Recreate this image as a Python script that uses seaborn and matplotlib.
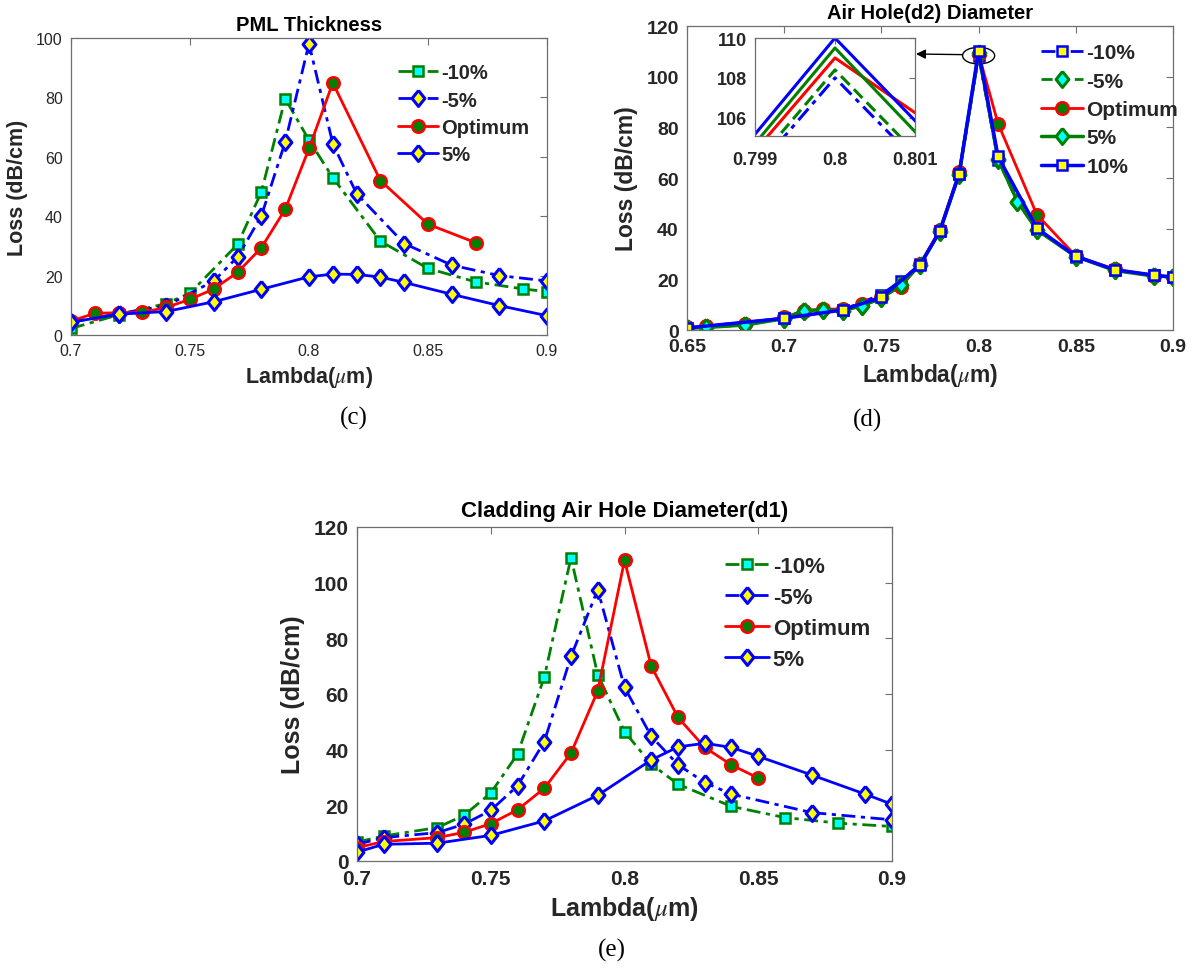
import matplotlib
matplotlib.use("Agg")
import matplotlib.pyplot as plt
from matplotlib.patches import Ellipse
import seaborn as sns
import pandas as pd

# ---------------- data ----------------
# Panel (c): PML Thickness
c_x_m10 = [0.70, 0.72, 0.74, 0.75, 0.77, 0.78, 0.79, 0.80, 0.81, 0.83, 0.85, 0.87, 0.89, 0.90]
c_y_m10 = [2.2, 6.8, 10.6, 14.1, 30.5, 48.2, 79.6, 65.6, 53.0, 31.6, 22.4, 17.9, 15.5, 14.6]
c_x_m5 = [0.70, 0.72, 0.74, 0.76, 0.77, 0.78, 0.79, 0.80, 0.81, 0.82, 0.84, 0.86, 0.88, 0.90]
c_y_m5 = [4.3, 7.2, 9.8, 18.2, 26.3, 40.1, 65.0, 98.1, 64.4, 47.6, 30.8, 23.5, 20.0, 18.2]
c_x_opt = [0.70, 0.71, 0.72, 0.73, 0.74, 0.75, 0.76, 0.77, 0.78, 0.79, 0.80, 0.81, 0.83, 0.85, 0.87]
c_y_opt = [4.7, 7.3, 7.5, 7.6, 9.3, 12.0, 15.5, 21.1, 29.4, 42.3, 62.8, 84.9, 52.0, 37.3, 31.1]
c_x_p5 = [0.70, 0.72, 0.74, 0.76, 0.78, 0.80, 0.81, 0.82, 0.83, 0.84, 0.86, 0.88, 0.90]
c_y_p5 = [4.3, 7.0, 7.9, 11.2, 15.4, 19.6, 20.5, 20.4, 19.5, 17.7, 13.7, 9.9, 6.5]

# Panel (d): Air Hole(d2) Diameter
d_x_m10 = [0.65, 0.70, 0.73, 0.75, 0.76, 0.77, 0.78, 0.79, 0.80, 0.81, 0.83, 0.85, 0.87, 0.89, 0.90]
d_y_m10 = [0.8, 4.6, 8.0, 14.0, 19.5, 26.0, 39.0, 61.5, 108.0, 67.0, 40.0, 29.0, 23.8, 21.6, 20.9]
d_x_m5 = [0.65, 0.66, 0.68, 0.70, 0.71, 0.72, 0.73, 0.74, 0.75, 0.76, 0.77, 0.78, 0.79, 0.80,
          0.81, 0.82, 0.83, 0.85, 0.87, 0.89, 0.90]
d_y_m5 = [0.8, 1.0, 2.0, 4.5, 7.5, 8.0, 7.6, 9.6, 12.5, 17.8, 25.8, 38.8, 61.3, 108.4,
          67.2, 50.5, 39.5, 29.0, 23.6, 21.4, 21.0]
d_x_opt = [0.65, 0.66, 0.68, 0.70, 0.71, 0.72, 0.73, 0.74, 0.75, 0.76, 0.77, 0.78, 0.79, 0.80,
           0.81, 0.83, 0.85, 0.87, 0.89, 0.90]
d_y_opt = [1.0, 1.4, 2.5, 5.0, 7.6, 8.2, 8.3, 10.3, 13.0, 17.0, 26.2, 39.5, 62.3, 109.0,
           81.5, 45.5, 29.2, 24.0, 21.5, 21.0]
d_x_p5 = [0.65, 0.66, 0.68, 0.70, 0.71, 0.72, 0.73, 0.74, 0.75, 0.76, 0.77, 0.78, 0.79, 0.80,
          0.81, 0.82, 0.83, 0.85, 0.87, 0.89, 0.90]
d_y_p5 = [0.8, 1.0, 2.0, 4.5, 7.6, 8.0, 7.6, 9.6, 12.5, 17.8, 25.8, 38.9, 61.5, 109.5,
          67.5, 50.7, 39.5, 29.0, 23.5, 21.3, 21.0]
d_x_p10 = [0.65, 0.70, 0.73, 0.75, 0.77, 0.78, 0.79, 0.80, 0.81, 0.83, 0.85, 0.87, 0.89, 0.90]
d_y_p10 = [0.8, 4.6, 7.9, 12.9, 25.8, 38.9, 61.7, 110.0, 68.5, 40.2, 29.1, 23.8, 21.7, 20.8]

# Panel (e): Cladding Air Hole Diameter(d1)
e_x_m10 = [0.70, 0.71, 0.73, 0.74, 0.75, 0.76, 0.77, 0.78, 0.79, 0.80, 0.81, 0.82, 0.84, 0.86, 0.88, 0.90]
e_y_m10 = [6.8, 9.0, 12.0, 16.4, 24.4, 38.4, 66.0, 109.0, 66.9, 46.5, 34.8, 27.6, 19.6, 15.6, 13.6, 12.4]
e_x_m5 = [0.70, 0.71, 0.73, 0.74, 0.75, 0.76, 0.77, 0.78, 0.79, 0.80, 0.81, 0.82, 0.83, 0.84, 0.87, 0.90]
e_y_m5 = [6.0, 8.4, 10.2, 13.2, 18.2, 27.0, 42.8, 73.5, 97.5, 62.4, 44.8, 34.6, 28.2, 24.0, 17.4, 14.8]
e_x_opt = [0.70, 0.71, 0.73, 0.74, 0.75, 0.76, 0.77, 0.78, 0.79, 0.80, 0.81, 0.82, 0.83, 0.84, 0.85]
e_y_opt = [4.8, 7.0, 8.4, 10.3, 13.4, 18.4, 26.1, 38.8, 61.1, 108.0, 70.0, 51.6, 40.8, 34.5, 29.8]
e_x_p5 = [0.70, 0.71, 0.73, 0.75, 0.77, 0.79, 0.81, 0.82, 0.83, 0.84, 0.85, 0.87, 0.89, 0.90]
e_y_p5 = [3.2, 6.0, 6.4, 9.2, 14.4, 23.6, 36.3, 41.0, 42.3, 40.8, 37.6, 30.9, 24.0, 20.4]

series_labels_ce = ["-10%", "-5%", "Optimum", "5%"]
series_labels_d = ["-10%", "-5%", "Optimum", "5%", "10%"]

xticks_ce = [0.7, 0.75, 0.8, 0.85, 0.9]
xtick_labels_ce = ["0.7", "0.75", "0.8", "0.85", "0.9"]
xticks_d = [0.65, 0.7, 0.75, 0.8, 0.85, 0.9]
xtick_labels_d = ["0.65", "0.7", "0.75", "0.8", "0.85", "0.9"]
yticks_c = [0, 20, 40, 60, 80, 100]
yticks_de = [0, 20, 40, 60, 80, 100, 120]
inset_xticks = [0.799, 0.8, 0.801]
inset_xtick_labels = ["0.799", "0.8", "0.801"]
inset_yticks = [106, 108, 110]

# ---------------- style ----------------
sns.set_theme(style="white")
plt.rcParams["font.family"] = ["Liberation Sans", "DejaVu Sans"]
plt.rcParams["mathtext.fontset"] = "stix"

GREEN = "#008000"
BLUE = "#0000FF"
RED = "#FF0000"
CYAN = "#00FFFF"
YELLOW = "#FFFF00"
SPINE = "#6e6e6e"
TXT = "#262626"
DASHDOT = (0, (5, 2, 1.5, 2))
DASHED = (0, (4, 2))
DIAMOND = [(0, 1), (0.8, 0), (0, -1), (-0.8, 0), (0, 1)]

fig = plt.figure(figsize=(11.93, 9.70), dpi=100)
W, H = 1193.0, 970.0


def rect(l, t, r, b):
    return [l / W, 1 - b / H, (r - l) / W, (b - t) / H]


ax_c = fig.add_axes(rect(71, 39, 547, 336))
ax_d = fig.add_axes(rect(687, 27, 1173, 331))
ax_e = fig.add_axes(rect(357, 528, 892, 862))


def draw(ax, xs, ys, color, ls, marker, ms, mfc, label, lw=2.0, mew=1.8):
    df = pd.DataFrame({"x": xs, "y": ys})
    sns.lineplot(data=df, x="x", y="y", ax=ax, color=color, linestyle=ls, linewidth=lw,
                 marker=marker, markersize=ms, markerfacecolor=mfc, markeredgecolor=color,
                 markeredgewidth=mew, label=label, errorbar=None, sort=False)


def style_axes(ax, xticks, xlabels, yticks, tick_fs, tick_weight):
    ax.set_xticks(xticks)
    ax.set_xticklabels(xlabels)
    ax.set_yticks(yticks)
    ax.set_yticklabels([str(v) for v in yticks])
    ax.tick_params(direction="in", length=5, width=0.8, color=SPINE, top=True, right=True,
                   labelsize=tick_fs, labelcolor=TXT, pad=6)
    for lab in ax.get_xticklabels() + ax.get_yticklabels():
        lab.set_fontweight(tick_weight)
    for sp in ax.spines.values():
        sp.set_color(SPINE)
        sp.set_linewidth(0.9)
    ax.set_facecolor("white")


DMS = 11.5   # diamond marker size
DMEW = 2.2
SMS = 6.5    # square marker size
OMS = 9      # circle marker size

# ---- panel (c)
draw(ax_c, c_x_m10, c_y_m10, GREEN, DASHDOT, "s", SMS, CYAN, series_labels_ce[0])
draw(ax_c, c_x_m5, c_y_m5, BLUE, DASHDOT, DIAMOND, DMS, YELLOW, series_labels_ce[1], mew=DMEW)
draw(ax_c, c_x_opt, c_y_opt, RED, "-", "o", OMS, GREEN, series_labels_ce[2])
draw(ax_c, c_x_p5, c_y_p5, BLUE, "-", DIAMOND, DMS, YELLOW, series_labels_ce[3], mew=DMEW)
ax_c.set_xlim(0.7, 0.9)
ax_c.set_ylim(0, 100)
style_axes(ax_c, xticks_ce, xtick_labels_ce, yticks_c, 11.5, "normal")
ax_c.set_title("PML Thickness", fontsize=14.5, fontweight="bold", color="black", pad=6)
ax_c.set_xlabel(r"Lambda($\mu$m)", fontsize=15.5, fontweight="bold", color=TXT, labelpad=4)
ax_c.set_ylabel("Loss (dB/cm)", fontsize=15.5, fontweight="bold", color=TXT, labelpad=6)
ax_c.legend(loc="upper left", bbox_to_anchor=((390 - 71) / 476, 1 - (56 - 39) / 297),
            frameon=False, handlelength=2.0, handletextpad=0.15,
            labelspacing=0.42, borderaxespad=0, prop={"weight": "bold", "size": 14.5})

# ---- panel (d)
draw(ax_d, d_x_m10, d_y_m10, BLUE, DASHDOT, "s", SMS, YELLOW, series_labels_d[0])
draw(ax_d, d_x_m5, d_y_m5, GREEN, DASHED, DIAMOND, DMS, CYAN, series_labels_d[1], mew=DMEW)
draw(ax_d, d_x_opt, d_y_opt, RED, "-", "o", OMS, GREEN, series_labels_d[2])
draw(ax_d, d_x_p5, d_y_p5, GREEN, "-", DIAMOND, DMS, CYAN, series_labels_d[3], lw=2.5, mew=DMEW)
draw(ax_d, d_x_p10, d_y_p10, BLUE, "-", "s", SMS, YELLOW, series_labels_d[4], lw=2.5)
ax_d.set_xlim(0.65, 0.9)
ax_d.set_ylim(0, 120)
style_axes(ax_d, xticks_d, xtick_labels_d, yticks_de, 14, "bold")
ax_d.set_title("Air Hole(d2) Diameter", fontsize=14.5, fontweight="bold", color="black", pad=6)
ax_d.set_xlabel(r"Lambda($\mu$m)", fontsize=16.5, fontweight="bold", color=TXT, labelpad=4)
ax_d.set_ylabel("Loss (dB/cm)", fontsize=16.5, fontweight="bold", color=TXT, labelpad=6)
ax_d.legend(loc="upper left", bbox_to_anchor=((1033 - 687) / 486, 1 - (36 - 27) / 304),
            frameon=False, handlelength=2.0, handletextpad=0.15,
            labelspacing=0.45, borderaxespad=0, prop={"weight": "bold", "size": 15})
ax_d.add_patch(Ellipse((0.8, 108.3), 0.0165, 6.6, fill=False, edgecolor="black", lw=1.0))

# inset
ax_in = fig.add_axes(rect(755, 39, 915, 137))
draw(ax_in, d_x_m10, d_y_m10, BLUE, DASHDOT, None, 0, YELLOW, None, lw=2.2)
draw(ax_in, d_x_m5, d_y_m5, GREEN, DASHED, None, 0, CYAN, None, lw=2.2)
draw(ax_in, d_x_opt, d_y_opt, RED, "-", None, 0, GREEN, None, lw=2.2)
draw(ax_in, d_x_p5, d_y_p5, GREEN, "-", None, 0, CYAN, None, lw=2.2)
draw(ax_in, d_x_p10, d_y_p10, BLUE, "-", None, 0, YELLOW, None, lw=2.2)
ax_in.set_xlim(0.799, 0.801)
ax_in.set_ylim(105.08, 110)
style_axes(ax_in, inset_xticks, inset_xtick_labels, inset_yticks, 13, "bold")
ax_in.tick_params(length=4)
ax_in.tick_params(axis="x", pad=11)
ax_in.set_xlabel("")
ax_in.set_ylabel("")
if ax_in.get_legend() is not None:
    ax_in.get_legend().remove()
ax_d.annotate("", xy=(916 / W, 1 - 55 / H), xycoords="figure fraction",
              xytext=(0.7915, 108.7), textcoords="data",
              arrowprops=dict(arrowstyle="-|>", color="black", lw=1.0, mutation_scale=14,
                              shrinkA=0, shrinkB=0))

# ---- panel (e)
draw(ax_e, e_x_m10, e_y_m10, GREEN, DASHDOT, "s", SMS, CYAN, series_labels_ce[0])
draw(ax_e, e_x_m5, e_y_m5, BLUE, DASHDOT, DIAMOND, DMS, YELLOW, series_labels_ce[1], mew=DMEW)
draw(ax_e, e_x_opt, e_y_opt, RED, "-", "o", OMS, GREEN, series_labels_ce[2])
draw(ax_e, e_x_p5, e_y_p5, BLUE, "-", DIAMOND, DMS, YELLOW, series_labels_ce[3], mew=DMEW)
ax_e.set_xlim(0.7, 0.9)
ax_e.set_ylim(0, 120)
style_axes(ax_e, xticks_ce, xtick_labels_ce, yticks_de, 15, "bold")
ax_e.set_title("Cladding Air Hole Diameter(d1)", fontsize=16, fontweight="bold", color="black", pad=8)
ax_e.set_xlabel(r"Lambda($\mu$m)", fontsize=18, fontweight="bold", color=TXT, labelpad=4)
ax_e.set_ylabel("Loss (dB/cm)", fontsize=18, fontweight="bold", color=TXT, labelpad=6)
ax_e.legend(loc="upper left", bbox_to_anchor=((716 - 357) / 535, 1 - (548 - 528) / 334),
            frameon=False, handlelength=2.0, handletextpad=0.15,
            labelspacing=0.45, borderaxespad=0, prop={"weight": "bold", "size": 16})

# sub-figure labels
for txt, x, y in [("(c)", 354, 418), ("(d)", 868, 420), ("(e)", 612, 950)]:
    fig.text(x / W, 1 - y / H, txt, ha="center", va="center", fontsize=18,
             family=["Liberation Serif", "DejaVu Serif"], color="black")

fig.savefig("out.png", dpi=100, facecolor="white")
